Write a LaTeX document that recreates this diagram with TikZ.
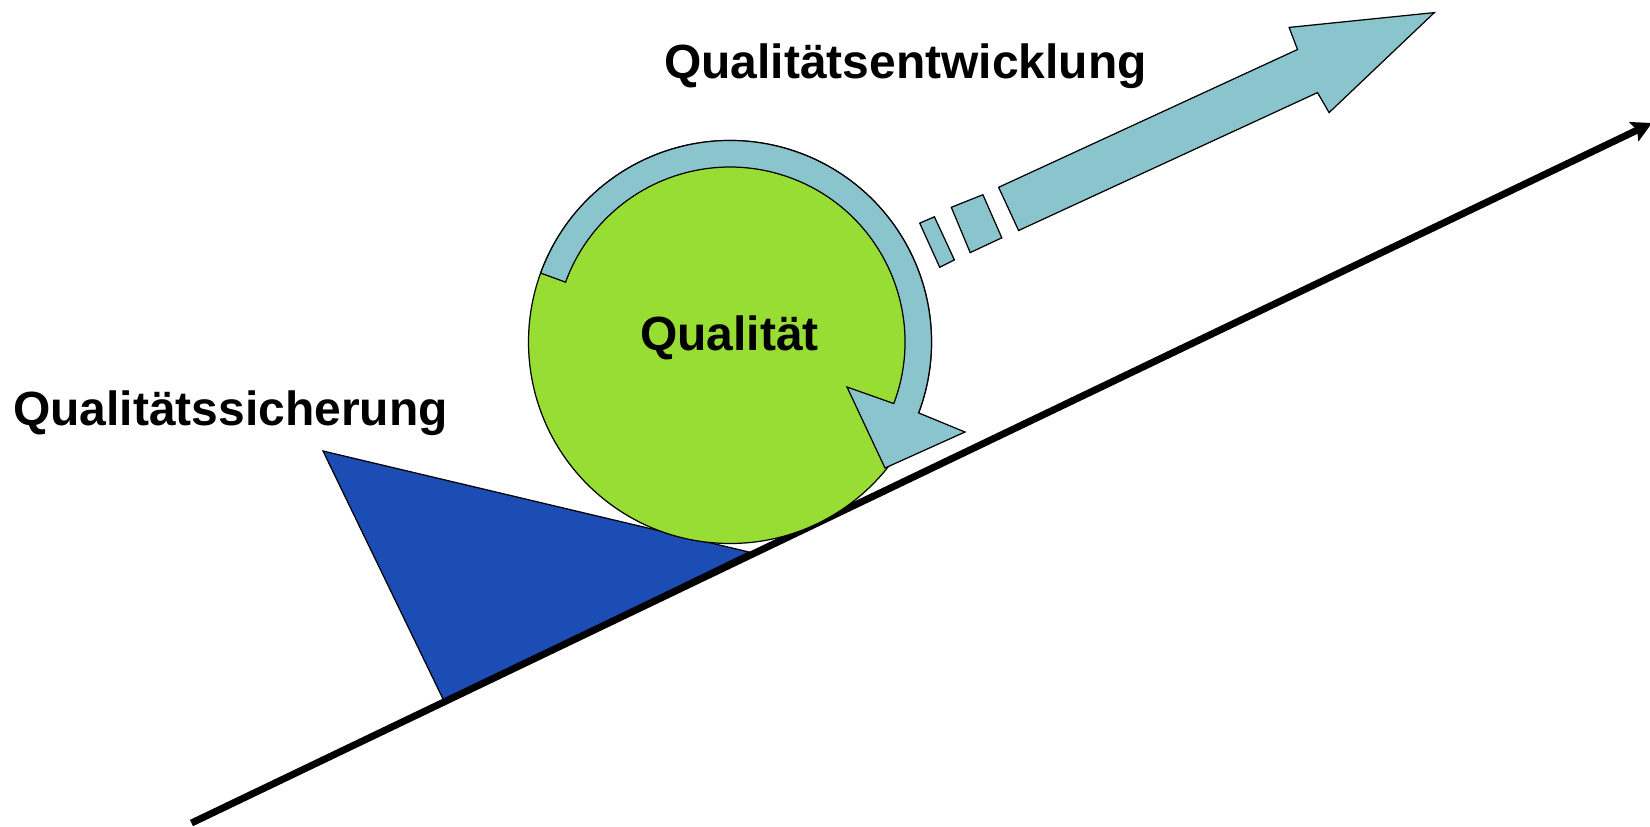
\documentclass[tikz,border=0pt]{standalone}
\usepackage{fontspec}
\setmainfont{Liberation Sans}
\usepackage{xcolor}
\definecolor{wedgeblue}{HTML}{1B4DB5}
\definecolor{ballgreen}{HTML}{98DD33}
\definecolor{ringteal}{HTML}{8AC5CD}
\usetikzlibrary{arrows.meta}

\begin{document}
\begin{tikzpicture}[
  x=0.02cm, y=-0.02cm,
  font=\fontsize{27.3}{32}\selectfont\bfseries,
  outline/.style={draw=black, line width=0.7pt, line join=miter},
  tealshape/.style={outline, fill=ringteal},
  tag/.style={inner sep=0pt, anchor=base west},
  slope/.style={line width=0.14cm, -{Stealth[length=0.4cm, width=0.42cm, inset=0.07cm]}}
]
  \useasboundingbox (0,0) rectangle (1650,826);

  \coordinate (slopeStart) at (191.5,823);
  \coordinate (slopeEnd)   at (1652,123);
  \coordinate (ball)       at (730,342);

  % wedge under the ball, then the slope on top of it
  \filldraw[outline, fill=wedgeblue] (323,451) -- (444,701) -- (749,552) -- cycle;
  \draw[slope] (slopeStart) -- (slopeEnd);

  % ball with the turning arrow running along its rim
  \filldraw[outline, fill=ballgreen] (ball) circle[radius=201.5];
  \coordinate (headOuter) at (965,432);
  \coordinate (headTip)   at (885,468);
  \coordinate (headInner) at (847,387);
  \draw[tealshape]
    ([shift={(200:201.5)}]ball) arc[start angle=200, end angle=380.6, radius=201.5]
    -- (headOuter) -- (headTip) -- (headInner)
    -- ([shift={(380.6:175)}]ball) arc[start angle=380.6, end angle=200, radius=175]
    -- cycle;

  % broken start of the long arrow
  \draw[tealshape] (919.7,223.1) -- (934.4,216.8) -- (954.4,259.9) -- (939.7,267.3) -- cycle;
  \draw[tealshape] (951.3,207.3) -- (982.9,194.7) -- (1001.8,237.8) -- (970.2,252.6) -- cycle;
  \draw[tealshape] (998.6,187.3) -- (1297.5,49.5) -- (1289.1,27.4) -- (1434.3,12.6)
    -- (1329.1,112.6) -- (1317.5,92.6) -- (1018.6,230.5) -- cycle;

  \node[tag] (lblEntwicklung) at (664,78)  {Qualitätsentwicklung};
  \node[tag] (lblSicherung)   at (13,425)  {Qualitätssicherung};
  \node[tag] (lblQualitaet)   at (640,350) {Qualität};
\end{tikzpicture}
\end{document}
